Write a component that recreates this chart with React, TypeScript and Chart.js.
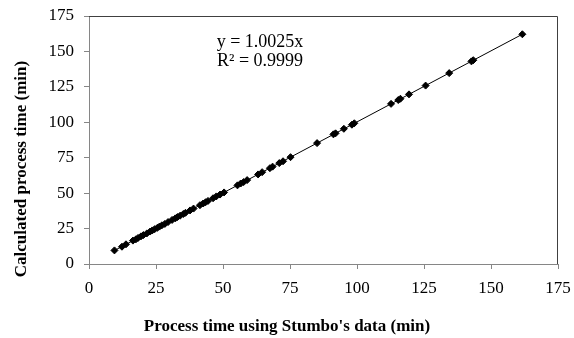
import React, { useEffect, useRef } from "react";
import { Chart, registerables } from "chart.js";

Chart.register(...registerables);

const stumboTimes = [9.5, 12.3, 13.8, 16.4, 17.5, 18.3, 19.4, 20.3, 21.6, 22.8, 23.6, 24.5, 25.5, 26.3, 27.2, 28.3, 29.5, 31.0, 32.2, 33.0, 34.0, 35.2, 36.0, 37.7, 39.0, 41.4, 42.6, 43.5, 44.4, 46.3, 47.5, 48.9, 50.4, 55.4, 56.6, 57.7, 59.0, 63.1, 64.6, 67.5, 68.5, 71.0, 72.4, 75.2, 85.1, 91.2, 92.0, 95.1, 98.1, 99.0, 112.7, 115.4, 116.2, 119.4, 125.6, 134.4, 142.7, 143.4, 161.7];
const calculatedTimes = [9.6, 12.2, 13.9, 16.5, 17.4, 18.4, 19.5, 20.4, 21.6, 22.9, 23.7, 24.6, 25.5, 26.4, 27.3, 28.3, 29.6, 31.1, 32.2, 33.1, 34.1, 35.3, 36.1, 37.8, 39.1, 41.5, 42.7, 43.6, 44.5, 46.4, 47.7, 49.0, 50.5, 55.5, 56.8, 57.8, 59.2, 63.2, 64.8, 67.6, 68.7, 71.2, 72.5, 75.4, 85.3, 91.5, 92.2, 95.4, 98.3, 99.3, 113.0, 115.7, 116.6, 119.7, 125.9, 134.7, 143.0, 143.8, 162.1];
const axisTicks = [0, 25, 50, 75, 100, 125, 150, 175];
const xTitle = "Process time using Stumbo's data (min)";
const yTitle = "Calculated process time (min)";
const equationLines = ["y = 1.0025x", "R² = 0.9999"];

export default function App() {
  const ref = useRef<HTMLCanvasElement | null>(null);

  useEffect(() => {
    const canvas = ref.current;
    if (!canvas) return;
    const points = stumboTimes.map((x, i) => ({ x, y: calculatedTimes[i] }));
    let sxy = 0, sxx = 0;
    points.forEach((p) => { sxy += p.x * p.y; sxx += p.x * p.x; });
    const slope = sxy / sxx;
    const xmin = Math.min(...stumboTimes);
    const xmax = Math.max(...stumboTimes);
    const trend = [{ x: xmin, y: slope * xmin }, { x: xmax, y: slope * xmax }];

    const serif = "'Liberation Serif', 'Times New Roman', serif";

    const decor = {
      id: "decor",
      afterDraw(chart: any) {
        const ctx = chart.ctx;
        const a = chart.chartArea;
        ctx.save();
        ctx.strokeStyle = "#404040";
        ctx.lineWidth = 1;
        ctx.beginPath();
        ctx.moveTo(a.left, a.top + 0.5);
        ctx.lineTo(a.right - 0.5, a.top + 0.5);
        ctx.lineTo(a.right - 0.5, a.bottom);
        ctx.stroke();
        ctx.fillStyle = "#000";
        ctx.font = `bold 17px ${serif}`;
        ctx.textAlign = "center";
        ctx.textBaseline = "middle";
        ctx.fillText(xTitle, chart.width / 2, 327);
        ctx.translate(22, chart.height / 2);
        ctx.rotate(-Math.PI / 2);
        ctx.fillText(yTitle, 0, 0);
        ctx.restore();
        ctx.save();
        ctx.fillStyle = "#000";
        ctx.font = `18px ${serif}`;
        ctx.textAlign = "center";
        ctx.textBaseline = "middle";
        ctx.fillText(equationLines[0], 260, 42);
        ctx.fillText(equationLines[1], 260, 61);
        ctx.restore();
      },
    };

    const chart = new Chart(canvas, {
      type: "scatter",
      data: {
        datasets: [
          {
            label: "Data",
            data: points,
            pointStyle: "rectRot",
            pointRadius: 3.5,
            backgroundColor: "#000",
            borderColor: "#000",
            borderWidth: 1,
            order: 1,
          },
          {
            label: "Trend",
            type: "line",
            data: trend,
            borderColor: "#000",
            borderWidth: 1,
            pointRadius: 0,
            fill: false,
            order: 2,
          } as any,
        ],
      },
      options: {
        responsive: false,
        animation: false,
        devicePixelRatio: 1,
        layout: { padding: { top: 16, right: 16, left: 0, bottom: 0 } },
        plugins: { legend: { display: false }, tooltip: { enabled: false } },
        scales: {
          x: {
            type: "linear",
            min: 0,
            max: 175,
            afterBuildTicks: (s: any) => { s.ticks = axisTicks.map((v) => ({ value: v })); },
            afterFit: (s: any) => { s.height = 74; s.paddingRight = 0; s.paddingLeft = 0; },
            grid: { drawOnChartArea: false, drawTicks: true, tickLength: 5, color: "#868686" },
            border: { color: "#868686", width: 1 },
            ticks: { color: "#000", font: { family: serif, size: 17 }, padding: 9, maxRotation: 0 },
          },
          y: {
            type: "linear",
            min: 0,
            max: 175,
            afterBuildTicks: (s: any) => { s.ticks = axisTicks.map((v) => ({ value: v })); },
            afterFit: (s: any) => { s.width = 89; s.paddingTop = 0; s.paddingBottom = 0; },
            grid: { drawOnChartArea: false, drawTicks: true, tickLength: 5, color: "#868686" },
            border: { color: "#868686", width: 1 },
            ticks: { color: "#000", font: { family: serif, size: 17 }, padding: 10 },
          },
        },
      },
      plugins: [decor],
    });
    return () => chart.destroy();
  }, []);

  return (
    <div style={{ position: "absolute", left: 0, top: 0, width: 574, height: 338, background: "#fff" }}>
      <canvas ref={ref} width={574} height={338} />
    </div>
  );
}
